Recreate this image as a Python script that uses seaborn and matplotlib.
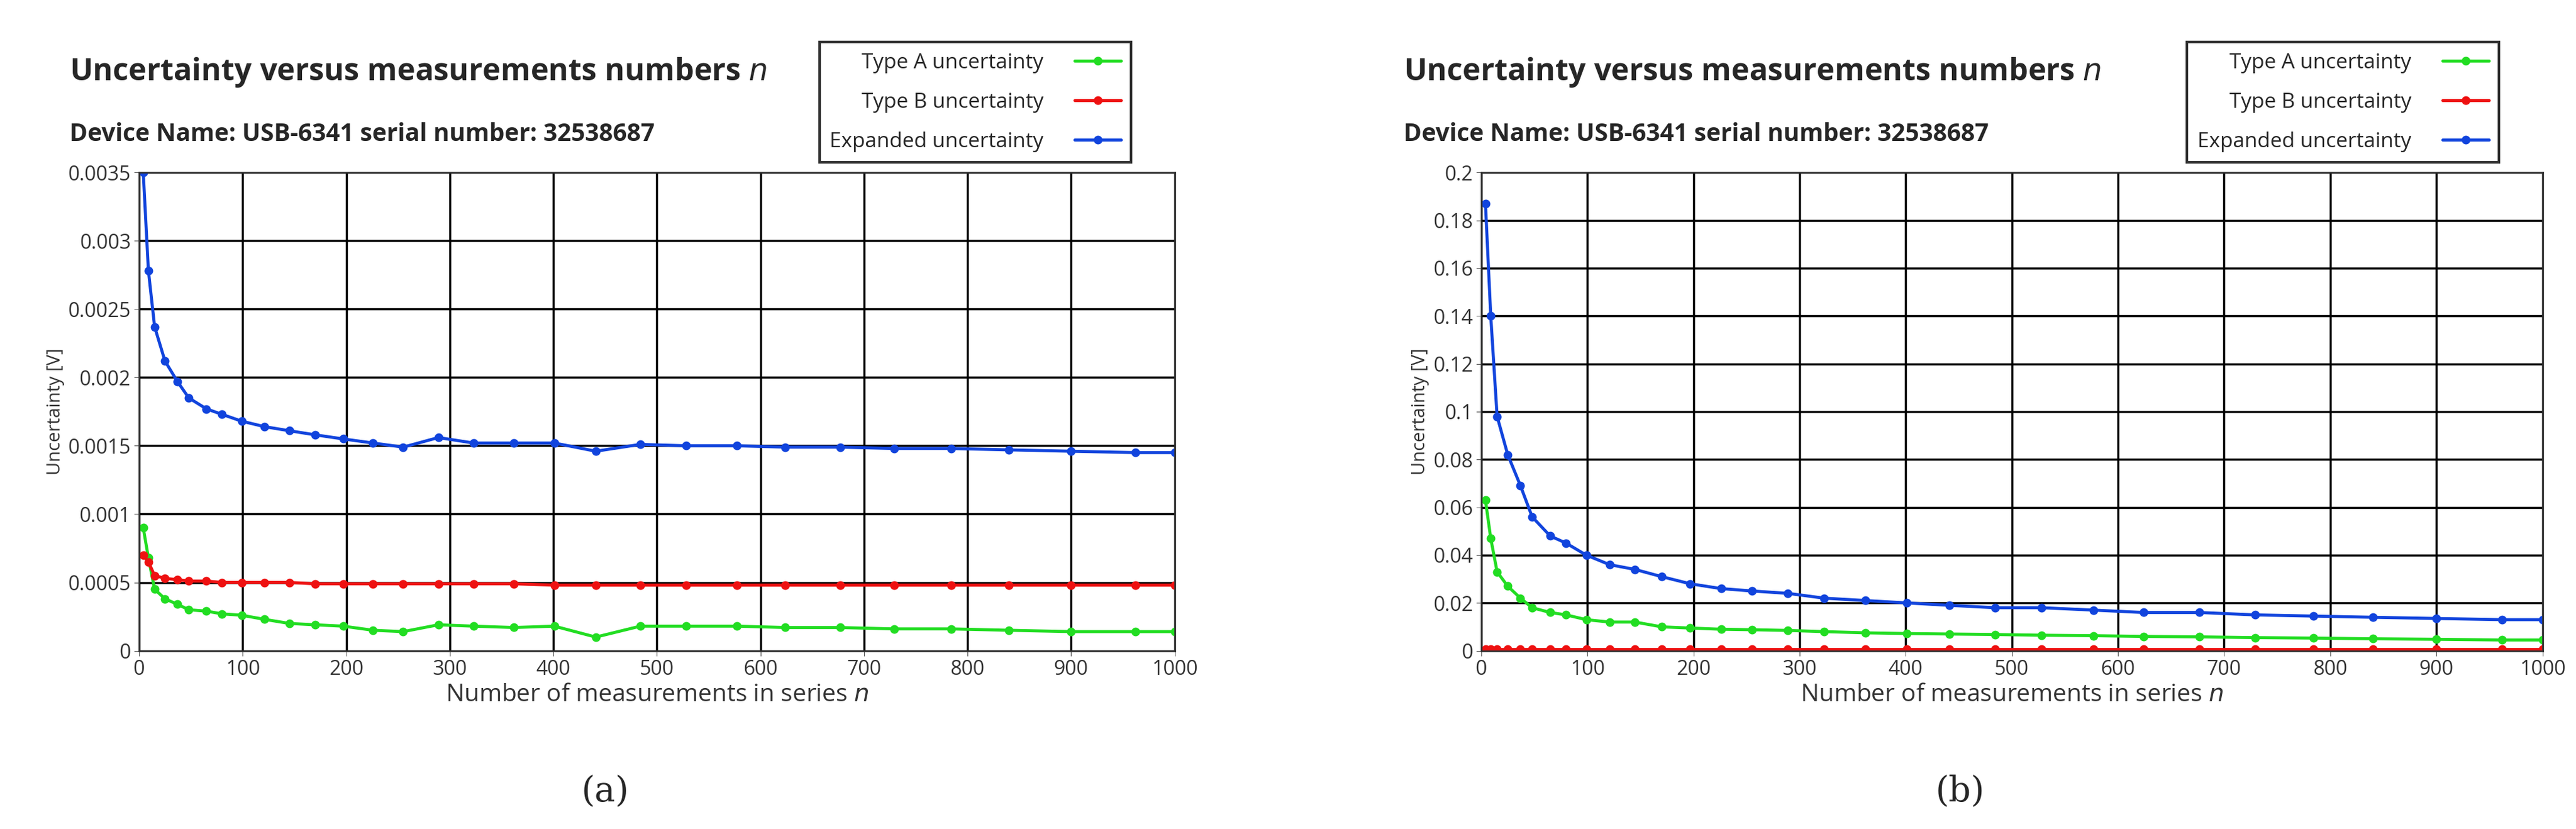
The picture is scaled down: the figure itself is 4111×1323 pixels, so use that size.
import matplotlib
matplotlib.use("Agg")
import matplotlib.pyplot as plt
import seaborn as sns
import pandas as pd
import numpy as np
from matplotlib.lines import Line2D

# sample points (n) where markers were drawn
n_points = [4, 9, 15, 25, 37, 48, 65, 80, 99, 121, 145, 170, 197, 226, 255, 289, 323, 362,
            401, 441, 484, 528, 577, 624, 677, 729, 784, 840, 900, 962, 1000]

# panel (a)
a_typeA = [0.0009, 0.00068, 0.00045, 0.00038, 0.00034, 0.0003, 0.00029, 0.00027, 0.00026, 0.00023,
           0.0002, 0.00019, 0.00018, 0.00015, 0.00014, 0.00019, 0.00018, 0.00017, 0.00018, 0.0001,
           0.00018, 0.00018, 0.00018, 0.00017, 0.00017, 0.00016, 0.00016, 0.00015, 0.00014, 0.00014, 0.00014]
a_typeB = [0.0007, 0.00065, 0.00055, 0.00053, 0.00052, 0.00051, 0.00051, 0.0005, 0.0005, 0.0005,
           0.0005, 0.00049, 0.00049, 0.00049, 0.00049, 0.00049, 0.00049, 0.00049, 0.00048, 0.00048,
           0.00048, 0.00048, 0.00048, 0.00048, 0.00048, 0.00048, 0.00048, 0.00048, 0.00048, 0.00048, 0.00048]
a_expanded = [0.0035, 0.00278, 0.00237, 0.00212, 0.00197, 0.00185, 0.00177, 0.00173, 0.00168, 0.00164,
              0.00161, 0.00158, 0.00155, 0.00152, 0.00149, 0.00156, 0.00152, 0.00152, 0.00152, 0.00146,
              0.00151, 0.0015, 0.0015, 0.00149, 0.00149, 0.00148, 0.00148, 0.00147, 0.00146, 0.00145, 0.00145]

# panel (b)
b_typeA = [0.063, 0.047, 0.033, 0.027, 0.022, 0.018, 0.016, 0.015, 0.013, 0.012, 0.012, 0.010,
           0.0095, 0.009, 0.0088, 0.0085, 0.008, 0.0075, 0.0072, 0.007, 0.0068, 0.0065, 0.0063,
           0.006, 0.0058, 0.0055, 0.0053, 0.005, 0.0048, 0.0045, 0.0045]
b_typeB = [0.0008] * 31
b_expanded = [0.187, 0.14, 0.098, 0.082, 0.069, 0.056, 0.048, 0.045, 0.040, 0.036, 0.034, 0.031,
              0.028, 0.026, 0.025, 0.024, 0.022, 0.021, 0.020, 0.019, 0.018, 0.018, 0.017, 0.016,
              0.016, 0.015, 0.0145, 0.014, 0.0135, 0.013, 0.013]

series_names = ["Type A uncertainty", "Type B uncertainty", "Expanded uncertainty"]
colors = ["#22dd22", "#ee1111", "#1144dd"]

sns.set_style("white")
plt.rcParams['font.family'] = ['Open Sans', 'DejaVu Sans']

fig = plt.figure(figsize=(41.11, 13.23), dpi=100)

panels = [
    dict(rect=[0.054, 0.215, 0.402, 0.577], data=[a_typeA, a_typeB, a_expanded],
         ylim=0.0035, yticks=np.arange(0, 0.0036, 0.0005), fmt=lambda v: "0" if v == 0 else f"{v:g}",
         tx=0.027, legx=0.314, label="(a)"),
    dict(rect=[0.575, 0.215, 0.412, 0.577], data=[b_typeA, b_typeB, b_expanded],
         ylim=0.2, yticks=np.arange(0, 0.201, 0.02), fmt=lambda v: "0" if v == 0 else f"{v:.2f}".rstrip("0"),
         tx=0.545, legx=0.845, label="(b)"),
]

for p in panels:
    ax = fig.add_axes(p["rect"])
    for name, vals, c in zip(series_names, p["data"], colors):
        df = pd.DataFrame({"n": n_points, "u": vals})
        sns.lineplot(data=df, x="n", y="u", color=c, lw=3.5, marker="o", markersize=10,
                     markeredgewidth=0, ax=ax)
    ax.set_xlim(0, 1000)
    ax.set_ylim(0, p["ylim"])
    ax.set_xticks(range(0, 1001, 100))
    ax.set_yticks(p["yticks"])
    ax.set_yticklabels([p["fmt"](round(v, 5)) for v in p["yticks"]])
    ax.grid(True, color="black", lw=2.5)
    ax.tick_params(labelsize=23, length=6, color="#555555", left=True, bottom=True, colors="#333333")
    for s in ax.spines.values():
        s.set_color("#333333")
        s.set_linewidth(2)
    ax.set_xlabel("Number of measurements in series $n$", fontsize=28, color="#333333")
    ax.set_ylabel("Uncertainty [V]", fontsize=21, color="#333333")
    fig.text(p["tx"], 0.913, "Uncertainty versus measurements numbers $n$", fontsize=35,
             fontweight="bold", va="center")
    fig.text(p["tx"], 0.838, "Device Name: USB-6341 serial number: 32538687", fontsize=28,
             fontweight="bold", va="center")
    handles = [Line2D([0], [0], color=c, lw=3.5, marker="o", markersize=9) for c in colors]
    leg = fig.legend(handles, series_names, loc="upper left", bbox_to_anchor=(p["legx"], 0.962),
                     markerfirst=False, fontsize=24, frameon=True, fancybox=False,
                     edgecolor="black", handlelength=2.2, labelspacing=0.9, borderpad=0.5,
                     handletextpad=1.5)
    leg.get_frame().set_linewidth(3)
    fig.text(p["rect"][0] + p["rect"][2] / 2 - 0.02, 0.045, p["label"], fontsize=40,
             family="DejaVu Serif", ha="center", va="center")

fig.savefig("out.png", dpi=100)
